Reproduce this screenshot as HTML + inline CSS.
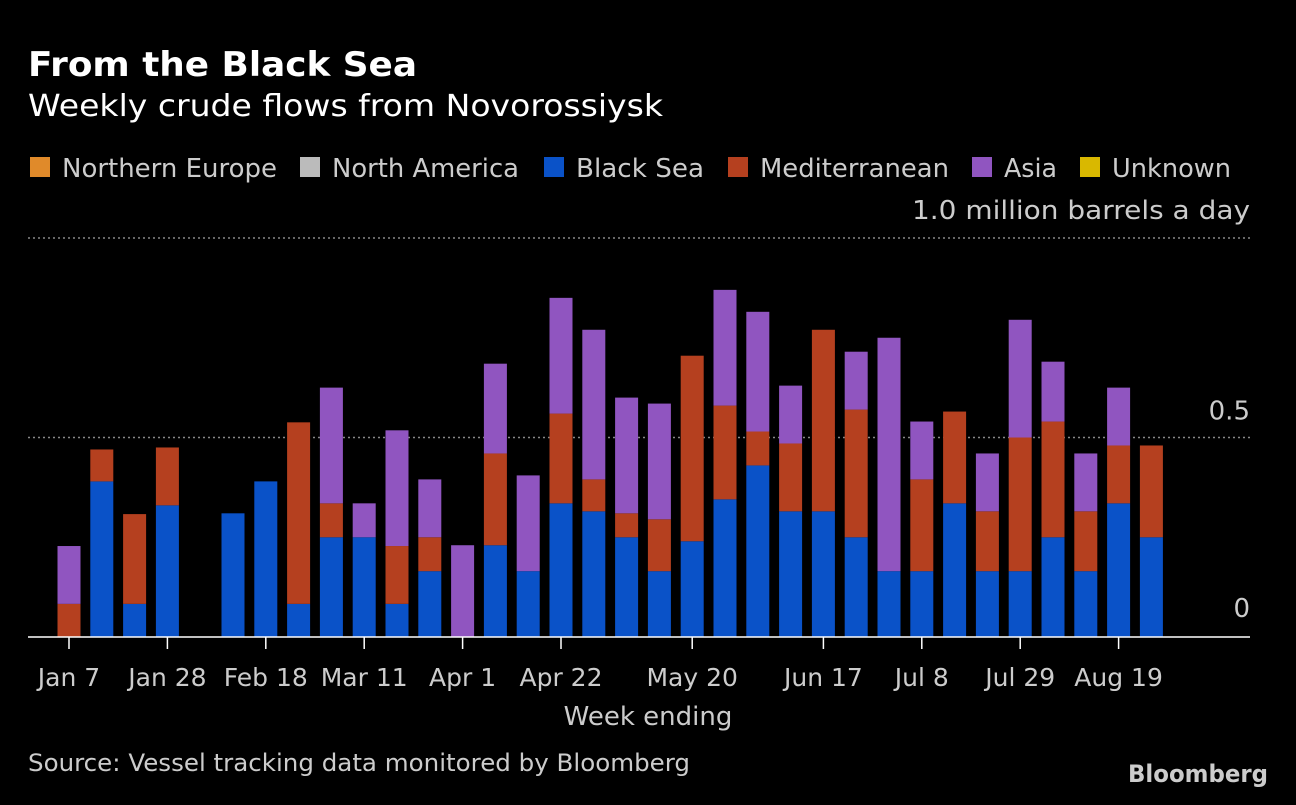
<!DOCTYPE html>
<html><head><meta charset="utf-8">
<style>
body{margin:0;background:#000;width:1296px;height:800px;overflow:hidden;}
svg text{font-family:"DejaVu Sans","Liberation Sans",sans-serif;}
</style></head>
<body>
<svg id="c" width="1296" height="800">
<text x="28" y="76" fill="#fff" font-size="34" font-weight="bold" textLength="389" lengthAdjust="spacingAndGlyphs">From the Black Sea</text>
<text x="28" y="116" fill="#fff" font-size="30" textLength="635" lengthAdjust="spacingAndGlyphs">Weekly crude flows from Novorossiysk</text>
<g id="legend"></g>
<text x="1250" y="219" fill="#ccc" font-size="26" text-anchor="end" textLength="338" lengthAdjust="spacingAndGlyphs">1.0 million barrels a day</text>
<g id="grid"></g>
<g id="bars"></g>
<g id="xaxis"></g>
<text x="648" y="725" fill="#ccc" font-size="26" text-anchor="middle">Week ending</text>
<text x="28" y="771" fill="#ccc" font-size="24" textLength="662" lengthAdjust="spacingAndGlyphs">Source: Vessel tracking data monitored by Bloomberg</text>
<text x="1268" y="782" fill="#ccc" font-size="24" font-weight="bold" text-anchor="end" textLength="140" lengthAdjust="spacingAndGlyphs">Bloomberg</text>
</svg>
<script>
const blackSea=[0,0.39,0.083,0.33,0,0.31,0.39,0.083,0.25,0.25,0.083,0.165,0,0.23,0.165,0.335,0.315,0.25,0.165,0.24,0.345,0.43,0.315,0.315,0.25,0.165,0.165,0.335,0.165,0.165,0.25,0.165,0.335,0.25];
const mediterranean=[0.083,0.08,0.225,0.145,0,0,0,0.455,0.085,0,0.145,0.085,0,0.23,0,0.225,0.08,0.06,0.13,0.465,0.235,0.085,0.17,0.455,0.32,0,0.23,0.23,0.15,0.335,0.29,0.15,0.145,0.23];
const asia=[0.145,0,0,0,0,0,0,0,0.29,0.085,0.29,0.145,0.23,0.225,0.24,0.29,0.375,0.29,0.29,0,0.29,0.3,0.145,0,0.145,0.585,0.145,0,0.145,0.295,0.15,0.145,0.145,0];
const tickIdx=[0,3,6,9,12,15,19,23,26,29,32];
const tickLabels=["Jan 7","Jan 28","Feb 18","Mar 11","Apr 1","Apr 22","May 20","Jun 17","Jul 8","Jul 29","Aug 19"];
const yTicks=[0,0.5,1.0];
const yLabels=["0","0.5",""];
const legendNames=["Northern Europe","North America","Black Sea","Mediterranean","Asia","Unknown"];
const legendColors=["#e08a2a","#bbbbbb","#0a52c8","#b5401f","#9055c0","#d9b800"];
const NS="http://www.w3.org/2000/svg";
const x=i=>69+i*32.8;
const y=v=>637-v*399;
function mk(t,a,p){const e=document.createElementNS(NS,t);for(const k in a)e.setAttribute(k,a[k]);p.appendChild(e);return e;}
const lg=document.getElementById('legend');
const lx=[30,300,544,728,972,1080];
const lw=[215,187,128,189,53,119];
legendNames.forEach((n,i)=>{
 const r=mk('rect',{x:lx[i],y:157,width:20,height:20,fill:legendColors[i]},lg);
 
 
 const t=mk('text',{x:lx[i]+32,y:177,fill:'#ccc','font-size':26,textLength:lw[i],lengthAdjust:'spacingAndGlyphs'},lg);t.textContent=n;
 
 
});
const g=document.getElementById('grid');
yTicks.forEach((v,i)=>{
 if(v>0){const l=mk('line',{x1:28,x2:1250,y1:y(v),y2:y(v),stroke:'#888','stroke-dasharray':'2,3','stroke-width':1.5},g);
 
 }
 if(yLabels[i]){const t=mk('text',{x:1250,y:y(v)-18+(v===0?-2:0),fill:'#ccc','font-size':26,'text-anchor':'end'},g);t.textContent=yLabels[i];
 
 }
});
const b=document.getElementById('bars');
const W=23;
blackSea.forEach((bs,i)=>{
 let base=0;
 [[bs,'#0a52c8','bar-black-sea'],[mediterranean[i],'#b5401f','bar-mediterranean'],[asia[i],'#9055c0','bar-asia']].forEach(([v,c,n])=>{
  if(v>0){const r=mk('rect',{x:x(i)-W/2,y:y(base+v),width:W,height:y(base)-y(base+v),fill:c},b);
  
  }
  base+=v;
 });
});
const xa=document.getElementById('xaxis');
const bl=mk('line',{x1:28,x2:1250,y1:637,y2:637,stroke:'#fff','stroke-width':1.5},xa);


tickIdx.forEach((k,i)=>{
 mk('line',{x1:x(k),x2:x(k),y1:637,y2:649,stroke:'#fff','stroke-width':1.5},xa);
 const t=mk('text',{x:x(k),y:686,fill:'#ccc','font-size':25,'text-anchor':'middle'},xa);t.textContent=tickLabels[i];
 
 
});
</script>
</body></html>
